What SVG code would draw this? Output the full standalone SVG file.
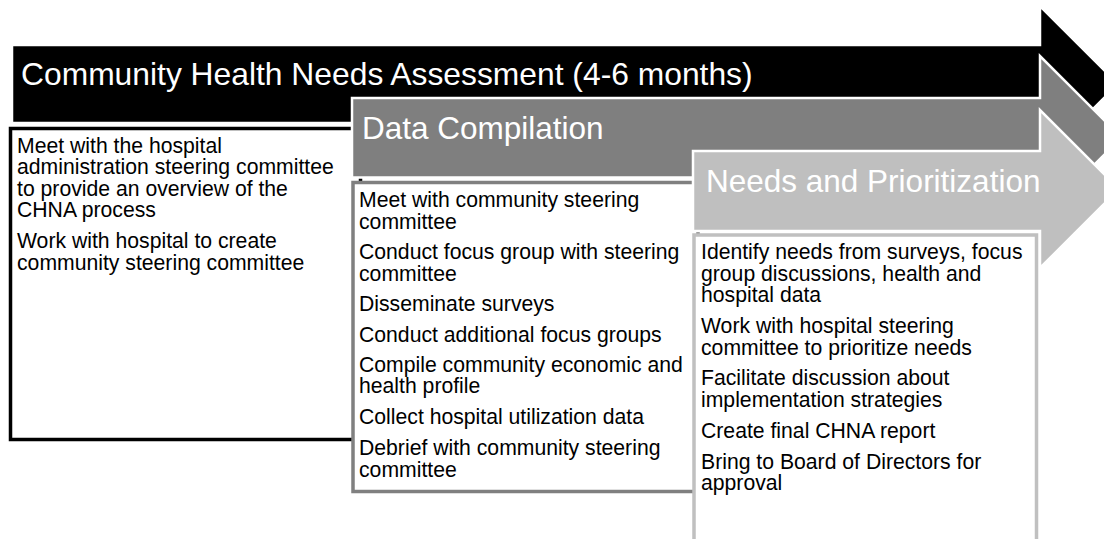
<svg xmlns="http://www.w3.org/2000/svg" width="1104" height="539" viewBox="0 0 1104 539">
<style>
  .arrow { stroke: #ffffff; stroke-width: 2.5; stroke-linejoin: miter; }
  .title { font-family: "Liberation Sans", Arial, sans-serif; font-size: 31.5px; fill: #ffffff; }
  .body { font-family: "Liberation Sans", Arial, sans-serif; font-size: 21.2px; fill: #000000; }
  .box { fill: #ffffff; stroke-width: 3.5; }
</style>
<rect width="1104" height="539" fill="#ffffff"/>
<g id="phase1">
  <path class="arrow" fill="#000000" d="M12,45 H1040 V6 L1118,84 L1040,162 V123 H12 Z"/>
  <text class="title" x="21" y="85" style="font-size:31.8px">Community Health Needs Assessment (4-6 months)</text>
</g>
<g id="box1">
  <rect class="box" stroke="#000000" x="10.5" y="128.5" width="350" height="311"/>
  <text class="body" x="17">
    <tspan x="17" y="152.5">Meet with the hospital</tspan>
    <tspan x="17" y="174">administration steering committee</tspan>
    <tspan x="17" y="195.5">to provide an overview of the</tspan>
    <tspan x="17" y="217">CHNA process</tspan>
    <tspan x="17" y="248">Work with hospital to create</tspan>
    <tspan x="17" y="269.5">community steering committee</tspan>
  </text>
</g>
<g id="phase2">
  <path class="arrow" fill="#7f7f7f" d="M352,98 H1040 V56 L1121.5,137.5 L1040,219 V177.5 H352 Z"/>
  <text class="title" x="362" y="139">Data Compilation</text>
</g>
<g id="box2">
  <rect class="box" stroke="#808080" x="353" y="182.5" width="345" height="309"/>
  <text class="body" x="359">
    <tspan x="359" y="207">Meet with community steering</tspan>
    <tspan x="359" y="228.5">committee</tspan>
    <tspan x="359" y="259">Conduct focus group with steering</tspan>
    <tspan x="359" y="280.5">committee</tspan>
    <tspan x="359" y="310.5">Disseminate surveys</tspan>
    <tspan x="359" y="341.5">Conduct additional focus groups</tspan>
    <tspan x="359" y="371.5">Compile community economic and</tspan>
    <tspan x="359" y="393">health profile</tspan>
    <tspan x="359" y="423.5">Collect hospital utilization data</tspan>
    <tspan x="359" y="455">Debrief with community steering</tspan>
    <tspan x="359" y="476.5">committee</tspan>
  </text>
</g>
<g id="phase3">
  <path class="arrow" fill="#bfbfbf" d="M693,151 H1040 V110 L1119,189 L1040,268 V231 H693 Z"/>
  <text class="title" x="706" y="192">Needs and Prioritization</text>
</g>
<g id="box3">
  <rect class="box" stroke="#c0c0c0" x="694" y="235" width="342.5" height="330"/>
  <text class="body" x="701">
    <tspan x="701" y="259">Identify needs from surveys, focus</tspan>
    <tspan x="701" y="280.5">group discussions, health and</tspan>
    <tspan x="701" y="302">hospital data</tspan>
    <tspan x="701" y="333">Work with hospital steering</tspan>
    <tspan x="701" y="354.5">committee to prioritize needs</tspan>
    <tspan x="701" y="385">Facilitate discussion about</tspan>
    <tspan x="701" y="406.5">implementation strategies</tspan>
    <tspan x="701" y="437.5">Create final CHNA report</tspan>
    <tspan x="701" y="468.5">Bring to Board of Directors for</tspan>
    <tspan x="701" y="490">approval</tspan>
  </text>
</g>
<g id="connectors"></g>
</svg>
